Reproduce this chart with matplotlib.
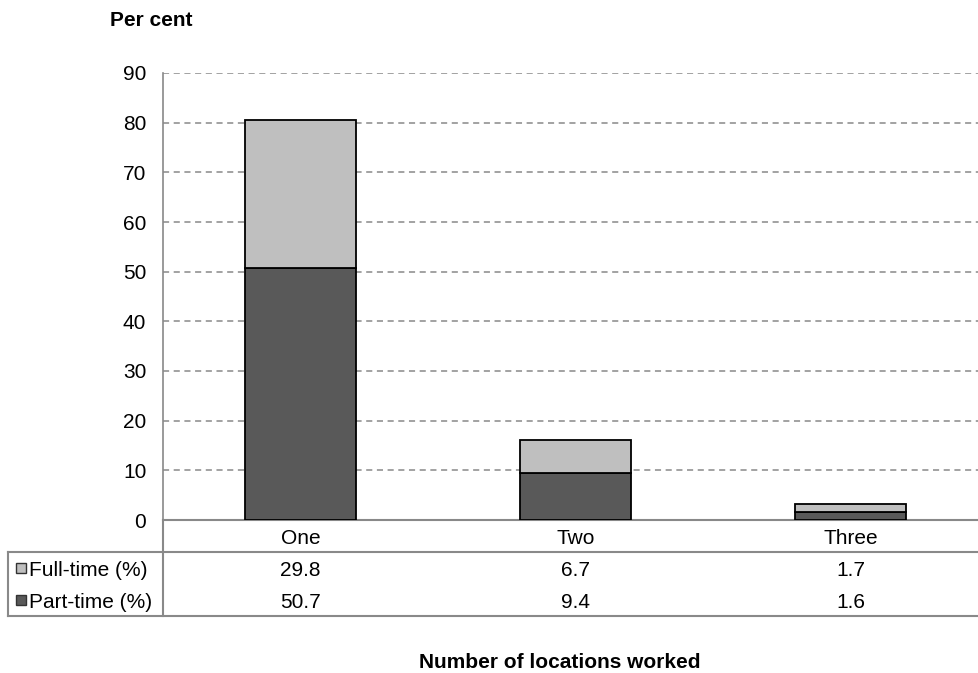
import numpy as np
import matplotlib.pyplot as plt
from matplotlib.lines import Line2D
from matplotlib.patches import Rectangle

categories = ['One', 'Two', 'Three']
full_time = [29.8, 6.7, 1.7]
part_time = [50.7, 9.4, 1.6]
series_names = ['Full-time (%)', 'Part-time (%)']
full_color = '#bfbfbf'
part_color = '#595959'
grid_color = '#898989'

W, H = 979, 673
fig = plt.figure(figsize=(W / 100, H / 100), dpi=100)
plt.rcParams['font.family'] = ['Liberation Sans', 'DejaVu Sans']

def fx(px):
    return px / W

def fy(py):
    return 1 - py / H

right = 988
ax = fig.add_axes([fx(163), fy(520), fx(right) - fx(163), fy(73) - fy(520)])
x = np.arange(len(categories))
ax.bar(x, part_time, width=0.405, color=part_color, edgecolor='black', linewidth=1.3, zorder=3)
ax.bar(x, full_time, width=0.405, bottom=part_time, color=full_color, edgecolor='black', linewidth=1.3, zorder=3)
ax.set_xlim(-0.5, 2.5)
ax.set_ylim(0, 90)
ax.set_yticks(range(0, 91, 10))
ax.yaxis.grid(True, linestyle=(0, (4, 3)), color=grid_color, linewidth=1.1, zorder=0)
ax.set_xticks([])
ax.tick_params(axis='y', length=0, labelsize=15, pad=12)
for s in ['top', 'right']:
    ax.spines[s].set_visible(False)
ax.spines['left'].set_color(grid_color)
ax.spines['bottom'].set_color(grid_color)
ax.spines['left'].set_linewidth(1.2)
ax.spines['bottom'].set_linewidth(1.5)

# data table below the axes
def hline(y, x0, x1):
    fig.add_artist(Line2D([fx(x0), fx(x1)], [fy(y), fy(y)], color=grid_color, lw=1.5))

def vline(xp, y0, y1):
    fig.add_artist(Line2D([fx(xp), fx(xp)], [fy(y0), fy(y1)], color=grid_color, lw=1.5))

hline(552, 8, 979)
hline(616, 8, 979)
vline(163, 520, 616)
vline(8, 552, 616)

col_w = (right - 163) / len(categories)
for i, c in enumerate(categories):
    cx = fx(163 + col_w * (i + 0.5))
    fig.text(cx, fy(538), c, ha='center', va='center', fontsize=15)
    fig.text(cx, fy(570), f'{full_time[i]:.1f}', ha='center', va='center', fontsize=15)
    fig.text(cx, fy(602), f'{part_time[i]:.1f}', ha='center', va='center', fontsize=15)

for j, (name, col) in enumerate(zip(series_names, [full_color, part_color])):
    yc = 568 + 32 * j
    fig.add_artist(Rectangle((fx(16), fy(yc + 5)), fx(10), fy(yc - 5) - fy(yc + 5),
                             facecolor=col, edgecolor='#333333', lw=1))
    fig.text(fx(29), fy(yc + 2), name, ha='left', va='center', fontsize=15)

fig.text(fx(110), fy(20), 'Per cent', ha='left', va='center', fontsize=15, fontweight='bold')
fig.text(fx(560), fy(662), 'Number of locations worked', ha='center', va='center',
         fontsize=15, fontweight='bold')

fig.savefig('out.png', dpi=100)
